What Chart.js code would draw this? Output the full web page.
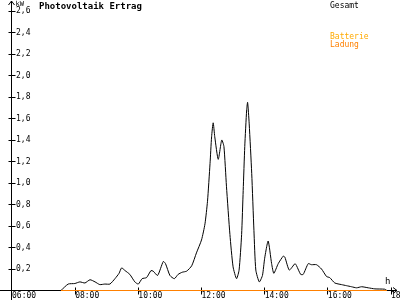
<!DOCTYPE html>
<html>
<head>
<meta charset="utf-8">
<script src="https://cdn.jsdelivr.net/npm/chart.js@4.4.1/dist/chart.umd.min.js"></script>
<style>
  html, body { margin: 0; padding: 0; background: #fff; }
  #wrap { width: 400px; height: 300px; position: relative; }
</style>
</head>
<body>
<div id="wrap"><canvas id="pv"></canvas></div>
<script>
// ---------- Data ----------
const title = "Photovoltaik Ertrag";

// time of day in decimal hours
const times = [
  7.55, 7.78, 7.99, 8.15, 8.31, 8.47, 8.63, 8.78, 8.94, 9.10,
  9.26, 9.39, 9.47, 9.58, 9.73, 9.89, 10.00, 10.12, 10.26, 10.40,
  10.47, 10.61, 10.79, 10.86, 11.00, 11.14, 11.26, 11.39, 11.53, 11.69,
  11.84, 12.00, 12.11, 12.19, 12.27, 12.32, 12.37, 12.42, 12.53, 12.64,
  12.71, 12.79, 12.90, 13.00, 13.11, 13.19, 13.27, 13.32, 13.37, 13.43,
  13.46, 13.51, 13.59, 13.66, 13.72, 13.83, 13.93, 14.00, 14.11, 14.22,
  14.29, 14.43, 14.59, 14.64, 14.78, 14.96, 15.01, 15.14, 15.22, 15.38,
  15.48, 15.64, 15.80, 15.96, 16.06, 16.22, 16.43, 16.59, 16.75, 16.91,
  17.07, 17.28, 17.49, 17.80, 17.87
];

// Gesamt (kW)
const gesamt = [
  0, 0.06, 0.065, 0.08, 0.07, 0.10, 0.08, 0.055, 0.06, 0.06,
  0.11, 0.16, 0.21, 0.185, 0.15, 0.08, 0.06, 0.11, 0.12, 0.185,
  0.18, 0.14, 0.27, 0.25, 0.14, 0.11, 0.15, 0.17, 0.18, 0.23,
  0.35, 0.47, 0.62, 0.83, 1.18, 1.43, 1.56, 1.43, 1.22, 1.40,
  1.34, 0.97, 0.52, 0.22, 0.11, 0.19, 0.52, 0.93, 1.34, 1.68,
  1.75, 1.55, 1.09, 0.56, 0.19, 0.08, 0.14, 0.30, 0.46, 0.25,
  0.16, 0.25, 0.32, 0.31, 0.19, 0.25, 0.23, 0.15, 0.15, 0.25,
  0.24, 0.24, 0.20, 0.13, 0.12, 0.07, 0.055, 0.045, 0.035, 0.025,
  0.035, 0.025, 0.015, 0.012, 0
];

// Batterie Ladung (kW) - flat at zero
const ladungTimes = [7.55, 17.87];
const ladung = [0, 0];

// axis ticks
const xTicks = [6, 8, 10, 12, 14, 16, 18];
const xTickLabels = ["06:00", "08:00", "10:00", "12:00", "14:00", "16:00", "18:00"];
const yTicks = [0.2, 0.4, 0.6, 0.8, 1.0, 1.2, 1.4, 1.6, 1.8, 2.0, 2.2, 2.4, 2.6];

const legendItems = [
  { text: "Gesamt", color: "#000000", y: 2 },
  { text: "Batterie", color: "#ffaa00", y: 33 },
  { text: "Ladung", color: "#ff8000", y: 41 }
];

// ---------- Helpers ----------
const MONO = "'DejaVu Sans Mono', monospace";
const crisp = (v) => Math.floor(v) + 0.5;
const toXY = (xs, ys) => xs.map((x, i) => ({ x, y: ys[i] }));

// ---------- Axes / labels plugin ----------
const decorPlugin = {
  id: "decor",
  beforeDatasetsDraw(chart) {
    const { ctx, scales: { x, y } } = chart;
    const x0 = crisp(x.getPixelForValue(6)) - 1;
    const y0 = crisp(y.getPixelForValue(0));
    ctx.save();
    ctx.strokeStyle = "#000";
    ctx.lineWidth = 1;
    ctx.beginPath();
    // x axis + arrow
    ctx.moveTo(0, y0); ctx.lineTo(397, y0);
    ctx.moveTo(393, y0 - 3); ctx.lineTo(397, y0); ctx.lineTo(393, y0 + 3);
    // y axis + arrow
    ctx.moveTo(x0, 300); ctx.lineTo(x0, 1);
    ctx.moveTo(x0 - 3, 5); ctx.lineTo(x0, 1); ctx.lineTo(x0 + 3, 5);
    // y tick marks crossing axis
    yTicks.forEach(v => {
      const py = crisp(y.getPixelForValue(v));
      ctx.moveTo(x0 - 3, py); ctx.lineTo(x0 + 4, py);
    });
    // x tick marks crossing axis
    xTicks.slice(1).forEach(v => {
      const px = crisp(x.getPixelForValue(v));
      ctx.moveTo(px, y0 - 3); ctx.lineTo(px, y0 + 4);
    });
    ctx.stroke();

    // unit labels
    ctx.fillStyle = "#000";
    ctx.textBaseline = "top";
    ctx.textAlign = "left";
    ctx.font = "7px " + MONO;
    ctx.fillText("kW", x0 + 4, 1);
    ctx.font = "9px " + MONO;
    ctx.fillText("h", 385, 277);
    ctx.restore();
  },
  afterDraw(chart) {
    const { ctx } = chart;
    ctx.save();
    ctx.textBaseline = "top";
    ctx.textAlign = "left";
    ctx.fillStyle = "#000";
    ctx.font = "bold 9px " + MONO;
    ctx.fillText(title, 39, 2);
    ctx.font = "8px " + MONO;
    legendItems.forEach(it => {
      ctx.fillStyle = it.color;
      ctx.fillText(it.text, 330, it.y);
    });
    ctx.restore();
  }
};

// ---------- Chart ----------
document.addEventListener("DOMContentLoaded", () => {
  const ctx = document.getElementById("pv").getContext("2d");
  new Chart(ctx, {
    type: "line",
    data: {
      datasets: [
        {
          label: "Ladung",
          data: toXY(ladungTimes, ladung),
          borderColor: "#ff8000",
          borderWidth: 1,
          pointRadius: 0,
          tension: 0,
          clip: false
        },
        {
          label: "Gesamt",
          data: toXY(times, gesamt),
          borderColor: "#000000",
          borderWidth: 1,
          pointRadius: 0,
          tension: 0.2,
          clip: false
        }
      ]
    },
    options: {
      responsive: true,
      maintainAspectRatio: false,
      animation: false,
      layout: { padding: { top: 11, right: 9, left: 0, bottom: 0 } },
      plugins: {
        legend: { display: false },
        tooltip: { enabled: false }
      },
      scales: {
        x: {
          type: "linear",
          min: 6,
          max: 18,
          afterBuildTicks: (s) => { s.ticks = xTicks.map(v => ({ value: v })); },
          afterFit: (s) => { s.height = 9.5; s.paddingLeft = 0; s.paddingRight = 0; },
          grid: { display: false, drawTicks: false },
          border: { display: false },
          ticks: {
            autoSkip: false,
            maxRotation: 0,
            align: "start",
            padding: 1,
            color: "#000",
            font: { family: MONO, size: 8 },
            callback: (v) => xTickLabels[xTicks.indexOf(v)] ?? ""
          }
        },
        y: {
          min: 0,
          max: 2.6,
          afterBuildTicks: (s) => { s.ticks = yTicks.map(v => ({ value: v })); },
          afterFit: (s) => { s.width = 12; },
          grid: { display: false, drawTicks: false },
          border: { display: false },
          ticks: {
            mirror: true,
            padding: 4,
            color: "#000",
            font: { family: MONO, size: 8 },
            callback: (v) => v.toFixed(1).replace(".", ",")
          }
        }
      }
    },
    plugins: [decorPlugin]
  });
});
</script>
</body>
</html>
